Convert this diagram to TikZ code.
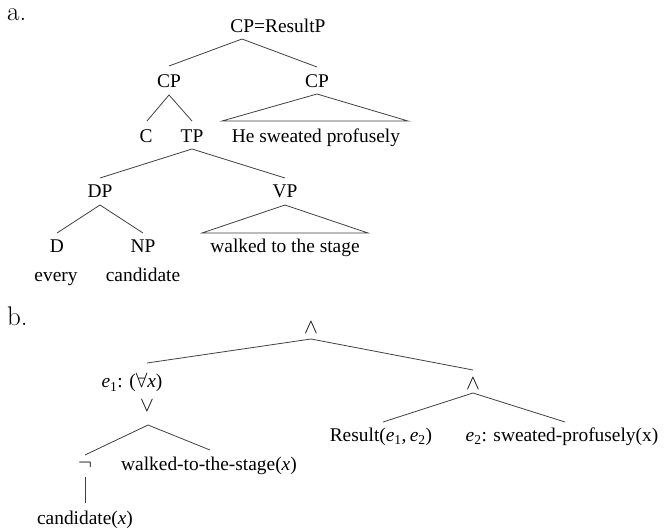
\documentclass[tikz,border=0pt]{standalone}
\usepackage{fontspec}
\newfontfamily\tnr{Liberation Serif}
\begin{document}
\begin{tikzpicture}[x=1pt,y=-1pt,
  lbl/.style={font=\tnr\fontsize{19.4}{23}\selectfont, inner sep=0pt, anchor=base},
  sym/.style={font=\fontsize{19.4}{23}\selectfont, inner sep=0pt, anchor=center},
  partlbl/.style={font=\fontsize{27}{32}\selectfont, inner sep=0pt, anchor=base west},
  branch/.style={draw=black!75, line width=0.8pt}]
\useasboundingbox (0,0) rectangle (665,532);
% ---------- part a ----------
\node[partlbl] (la) at (7,21) {a.};
\node[lbl] (root) at (278,33) {CP=ResultP};
\node[lbl] (cpL) at (169,88) {CP};
\node[lbl] (cpR) at (317,88) {CP};
\node[lbl] (C) at (146,143) {C};
\node[lbl] (TP) at (192,143) {TP};
\node[lbl] (he) at (316,143) {He sweated profusely};
\node[lbl] (DP) at (100,198) {DP};
\node[lbl] (VP) at (285,198) {VP};
\node[lbl] (D) at (57,253) {D};
\node[lbl] (NP) at (143,253) {NP};
\node[lbl] (walk) at (285,253) {walked to the stage};
\node[lbl] (every) at (56,282) {every};
\node[lbl] (cand) at (143,282) {candidate};
\coordinate (rootB) at (242,39);
\coordinate (cpLT) at (169,66);
\coordinate (cpRT) at (317,67);
\coordinate (cpLB) at (169,95);
\coordinate (CT) at (147,121);
\coordinate (TPT) at (192,121);
\coordinate (cpRB) at (317,94);
\coordinate (heL) at (222,121);
\coordinate (heR) at (408,121);
\coordinate (TPB) at (192,149);
\coordinate (DPT) at (100,178);
\coordinate (VPT) at (285,178);
\coordinate (DPB) at (100,205);
\coordinate (DT) at (57,233);
\coordinate (NPT) at (143,233);
\coordinate (VPB) at (285,205);
\coordinate (walkL) at (202,233);
\coordinate (walkR) at (368,233);
\draw[branch] (cpLT) -- (rootB) -- (cpRT);
\draw[branch] (CT) -- (cpLB) -- (TPT);
\draw[branch] (heL) -- (cpRB) -- (heR) -- cycle;
\draw[branch] (DPT) -- (TPB) -- (VPT);
\draw[branch] (DT) -- (DPB) -- (NPT);
\draw[branch] (walkL) -- (VPB) -- (walkR) -- cycle;
% ---------- part b ----------
\node[partlbl] (lb) at (7,325) {b.};
\node[sym] (and1) at (311,328) {$\wedge$};
\node[lbl] (e1) at (132,388) {\textit{e}\textsubscript{1}: ($\forall$\textit{x})};
\node[sym] (or) at (147,406) {$\vee$};
\node[sym] (neg) at (85,465) {$\neg$};
\node[lbl] (wts) at (209,470) {walked-to-the-stage(\textit{x})};
\node[lbl] (candx) at (85,524) {candidate(\textit{x})};
\node[sym] (and2) at (473,384) {$\wedge$};
\node[lbl] (res) at (381,441) {Result(\textit{e}\textsubscript{1},\,\textit{e}\textsubscript{2})};
\node[lbl] (swp) at (562,441) {\textit{e}\textsubscript{2}: sweated-profusely(x)};
\coordinate (and1B) at (311,339);
\coordinate (e1T) at (147,363);
\coordinate (and2T) at (473,370);
\coordinate (orB) at (148,425);
\coordinate (negT) at (85,455);
\coordinate (wtsT) at (210,450);
\coordinate (negB) at (85,477);
\coordinate (candT) at (85,503);
\coordinate (and2B) at (473,393);
\coordinate (resT) at (383,422);
\coordinate (swpT) at (565,422);
\draw[branch] (e1T) -- (and1B) -- (and2T);
\draw[branch] (negT) -- (orB) -- (wtsT);
\draw[branch] (negB) -- (candT);
\draw[branch] (resT) -- (and2B) -- (swpT);
\end{tikzpicture}
\end{document}
